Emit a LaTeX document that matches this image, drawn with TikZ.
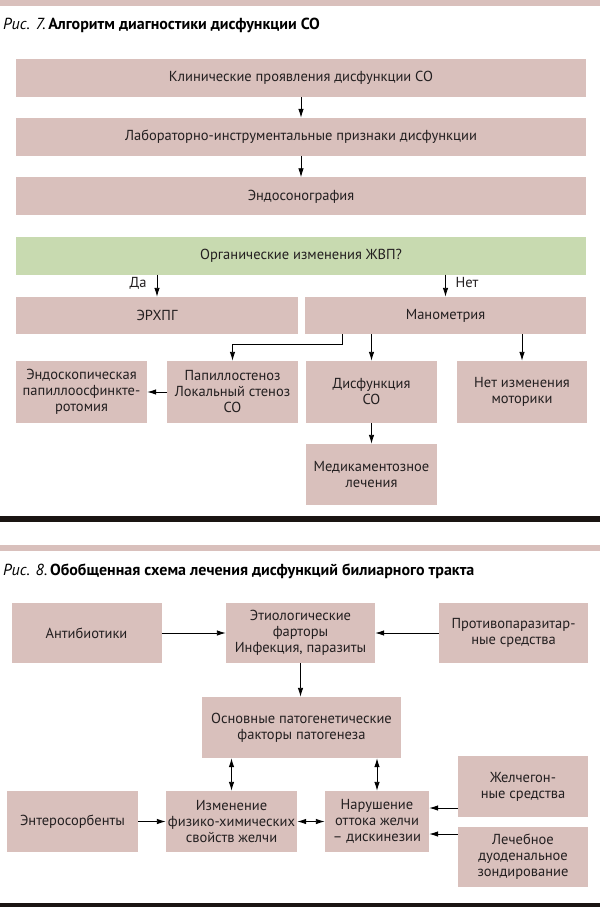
\documentclass[tikz,border=0pt]{standalone}
\usepackage{fontspec}
\setmainfont{PT Sans}
\usetikzlibrary{arrows.meta}
\definecolor{pinkbox}{HTML}{D9C0BC}
\definecolor{greenbox}{HTML}{C8DAB0}
\definecolor{txt}{HTML}{231F20}
\definecolor{rule}{HTML}{1A1512}
\tikzset{
  pbox/.style={fill=pinkbox, draw=none, inner sep=0pt, align=center, text=txt,
    font=\fontsize{14.5}{16}\selectfont},
  gbox/.style={pbox, fill=greenbox},
  arr/.style={draw=black, line width=0.9pt, -{Latex[length=9pt,width=5.5pt]}},
  darr/.style={draw=black, line width=0.9pt, {Latex[length=9pt,width=5.5pt]}-{Latex[length=9pt,width=5.5pt]}},
  lbl/.style={inner sep=0pt, text=txt, font=\fontsize{14.5}{16}\selectfont},
  ttl/.style={inner sep=0pt, anchor=west, text=black, font=\fontsize{16}{19}\selectfont},
}
\begin{document}
\begin{tikzpicture}[x=1pt,y=-1pt]
\useasboundingbox (0,0) rectangle (600,909);
\fill[white] (0,0) rectangle (600,909);
% bands
\fill[pinkbox] (0,0) rectangle (600,6);
\fill[rule] (0,516) rectangle (600,521.5);
\fill[pinkbox] (0,545) rectangle (600,551);
\fill[rule] (0,902.5) rectangle (600,907);
% titles
\node[ttl] (t1) at (3,25) {\textit{Рис. 7.}\,\textbf{Алгоритм диагностики дисфункции СО}};
\node[ttl] (t2) at (3,571) {\textit{Рис. 8.}\,\textbf{Обобщенная схема лечения дисфункций билиарного тракта}};
% figure 7
\node[pbox, minimum width=570pt, minimum height=38pt] (b1) at (301,78) {Клинические проявления дисфункции СО};
\node[pbox, minimum width=570pt, minimum height=38pt] (b2) at (301,137) {Лабораторно-инструментальные признаки дисфункции};
\node[pbox, minimum width=570pt, minimum height=38pt] (b3) at (301,196.5) {Эндосонография};
\node[gbox, minimum width=570pt, minimum height=38pt] (g) at (301,255.5) {Органические изменения ЖВП?};
\node[pbox, minimum width=282pt, minimum height=37pt] (erh) at (157,315.5) {ЭРХПГ};
\node[pbox, minimum width=281pt, minimum height=37pt] (man) at (445.5,315.5) {Манометрия};
\node[pbox, minimum width=131pt, minimum height=62pt] (endo) at (81.5,392) {Эндоскопическая\\папиллоосфинкте-\\ротомия};
\node[pbox, minimum width=131pt, minimum height=62pt] (pap) at (232.5,392) {Папиллостеноз\\Локальный стеноз\\СО};
\node[pbox, minimum width=131pt, minimum height=62pt] (dys) at (371.5,392) {Дисфункция\\СО};
\node[pbox, minimum width=130pt, minimum height=62pt] (net) at (522,392) {Нет изменения\\моторики};
\node[pbox, minimum width=131pt, minimum height=61pt] (med) at (371.5,474.5) {Медикаментозное\\лечения};

\draw[arr] (b1.south) -- (b2.north);
\draw[arr] (b2.south) -- (b3.north);
\draw[arr] (erh.north |- g.south) -- (erh.north);
\draw[arr] (man.north |- g.south) -- (man.north);
\node[lbl] (da) at (138,283) {Да};
\node[lbl] (nt) at (467,283) {Нет};
\draw[arr] ([xshift=-103.5pt]man.south) -- ++(0,10) -| (pap.north);
\draw[arr] (man.south -| dys.north) -- (dys.north);
\draw[arr] (man.south -| net.north) -- (net.north);
\draw[arr] (pap.west) -- (endo.east);
\draw[arr] (dys.south) -- (med.north);

% figure 8
\node[pbox, minimum width=150pt, minimum height=60pt] (anti) at (86.5,633) {Антибиотики};
\node[pbox, minimum width=149pt, minimum height=60pt] (etio) at (300.5,633) {Этиологические\\фарторы\\Инфекция, паразиты};
\node[pbox, minimum width=149pt, minimum height=60pt] (prot) at (513.5,633) {Противопаразитар-\\ные средства};
\node[pbox, minimum width=199pt, minimum height=61pt] (osn) at (301.5,727.5) {Основные патогенетические\\факторы патогенеза};
\node[pbox, minimum width=131pt, minimum height=61pt] (ent) at (72.5,821.5) {Энтеросорбенты};
\node[pbox, minimum width=131pt, minimum height=61pt] (izm) at (231.5,821.5) {Изменение\\физико-химических\\свойств желчи};
\node[pbox, minimum width=104pt, minimum height=61pt] (nar) at (377,821.5) {Нарушение\\оттока желчи\\– дискинезии};
\node[pbox, minimum width=130pt, minimum height=61pt] (zhel) at (523,786.5) {Желчегон-\\ные средства};
\node[pbox, minimum width=130pt, minimum height=60pt] (lech) at (523,857) {Лечебное\\дуоденальное\\зондирование};

\draw[arr] (anti.east) -- (etio.west);
\draw[arr] (prot.west) -- (etio.east);
\draw[arr] (etio.south) -- (etio.south |- osn.north);
\draw[darr] (izm.north |- osn.south) -- (izm.north);
\draw[darr] (nar.north |- osn.south) -- (nar.north);
\draw[arr] (ent.east) -- (izm.west);
\draw[darr] (izm.east) -- (nar.west);
\coordinate (n1) at ([yshift=13.5pt]nar.east);
\coordinate (n2) at ([yshift=-12.5pt]nar.east);
\draw[arr] (n1 -| zhel.west) -- (n1);
\draw[arr] (n2 -| lech.west) -- (n2);
\end{tikzpicture}
\end{document}
